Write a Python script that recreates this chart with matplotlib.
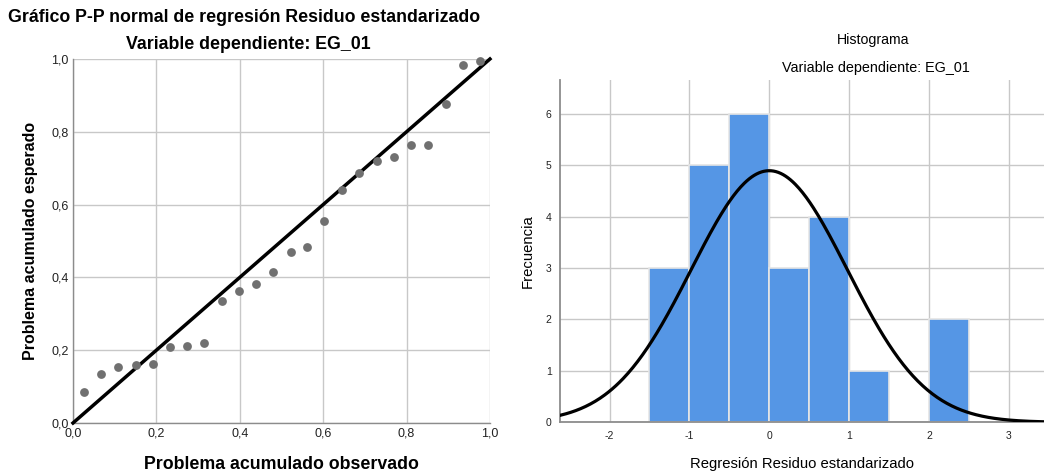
import numpy as np
import matplotlib
matplotlib.use("Agg")
import matplotlib.pyplot as plt
from matplotlib.ticker import FuncFormatter

plt.rcParams['font.family'] = ['Liberation Sans', 'DejaVu Sans']
plt.rcParams['axes.unicode_minus'] = False

# P-P plot: observed vs expected cumulative probability
observed = [0.026, 0.067, 0.109, 0.150, 0.191, 0.233, 0.274, 0.314,
            0.357, 0.398, 0.439, 0.480, 0.522, 0.562, 0.603, 0.645,
            0.686, 0.728, 0.769, 0.810, 0.852, 0.894, 0.935, 0.976]
expected = [0.085, 0.135, 0.153, 0.159, 0.162, 0.210, 0.211, 0.220,
            0.334, 0.362, 0.381, 0.416, 0.471, 0.484, 0.556, 0.641,
            0.686, 0.721, 0.731, 0.763, 0.765, 0.876, 0.984, 0.994]

# Histogram of standardized residuals
bin_edges = [-1.5, -1.0, -0.5, 0.0, 0.5, 1.0, 1.5, 2.0, 2.5]
bin_counts = [3, 5, 6, 3, 4, 1, 0, 2]
resid_mean = 0.0
resid_sd = 0.978
n_obs = 24

GRID = '#c8c8c8'
SPINE = '#8c8c8c'

fig = plt.figure(figsize=(10.44, 4.73), dpi=100)

# ---- Left: P-P plot ----
ax1 = fig.add_axes([0.0699, 0.1057, 0.3994, 0.7696])
ax1.set_xlim(0, 1)
ax1.set_ylim(0, 1)
ticks = [0, 0.2, 0.4, 0.6, 0.8, 1.0]
ax1.set_xticks(ticks)
ax1.set_yticks(ticks)
comma = FuncFormatter(lambda v, p: f"{v:.1f}".replace('.', ','))
ax1.xaxis.set_major_formatter(comma)
ax1.yaxis.set_major_formatter(comma)
ax1.grid(True, color=GRID, linewidth=1.0)
ax1.set_axisbelow(True)
ax1.tick_params(length=0, labelsize=9, colors='#222222', pad=3)
for s in ['top', 'right']:
    ax1.spines[s].set_visible(False)
for s in ['left', 'bottom']:
    ax1.spines[s].set_color(SPINE)
    ax1.spines[s].set_linewidth(1.0)
ax1.plot([0, 1], [0, 1], color='black', linewidth=2.5, zorder=3, clip_on=False)
ax1.scatter(observed, expected, s=40, color='#707070', zorder=4, clip_on=False,
            linewidths=0)
ax1.set_xlabel('Problema acumulado observado', fontsize=12.8, fontweight='bold',
               labelpad=12)
ax1.set_ylabel('Problema acumulado esperado', fontsize=11.5, fontweight='bold',
               labelpad=10)
fig.text(0.2375, 0.905, 'Variable dependiente: EG_01', fontsize=12.8,
         fontweight='bold', ha='center', va='center')
fig.text(0.0077, 0.963, 'Gráfico P-P normal de regresión Residuo estandarizado',
         fontsize=12.8, fontweight='bold', ha='left', va='center')

# ---- Right: histogram with normal curve ----
ax2 = fig.add_axes([0.5364, 0.1072, 0.4636, 0.7237])
ax2.set_xlim(-2.62, 3.44)
ax2.set_ylim(0, 6.66)
widths = np.diff(bin_edges)
ax2.bar(bin_edges[:-1], bin_counts, width=widths, align='edge',
        color='#5596e5', edgecolor='#e6e6e6', linewidth=1.2, zorder=2)
xs = np.linspace(-2.62, 3.44, 400)
binw = widths[0]
curve = n_obs * binw / (resid_sd * np.sqrt(2 * np.pi)) * \
    np.exp(-0.5 * ((xs - resid_mean) / resid_sd) ** 2)
ax2.plot(xs, curve, color='black', linewidth=2.3, zorder=3)
ax2.set_xticks([-2, -1, 0, 1, 2, 3])
ax2.set_yticks([0, 1, 2, 3, 4, 5, 6])
ax2.grid(True, color=GRID, linewidth=1.0)
ax2.set_axisbelow(True)
ax2.tick_params(length=0, labelsize=7.5, colors='#222222', pad=6)
for s in ['top', 'right']:
    ax2.spines[s].set_visible(False)
for s in ['left', 'bottom']:
    ax2.spines[s].set_color(SPINE)
    ax2.spines[s].set_linewidth(1.3)
ax2.set_xlabel('Regresión Residuo estandarizado', fontsize=10.7, labelpad=12)
ax2.set_ylabel('Frecuencia', fontsize=10.7, labelpad=8)
fig.text(0.8362, 0.915, 'Histograma', fontsize=10.2, ha='center', va='center')
fig.text(0.839, 0.856, 'Variable dependiente: EG_01', fontsize=10.4,
         ha='center', va='center')

fig.savefig('out.png', dpi=100)
